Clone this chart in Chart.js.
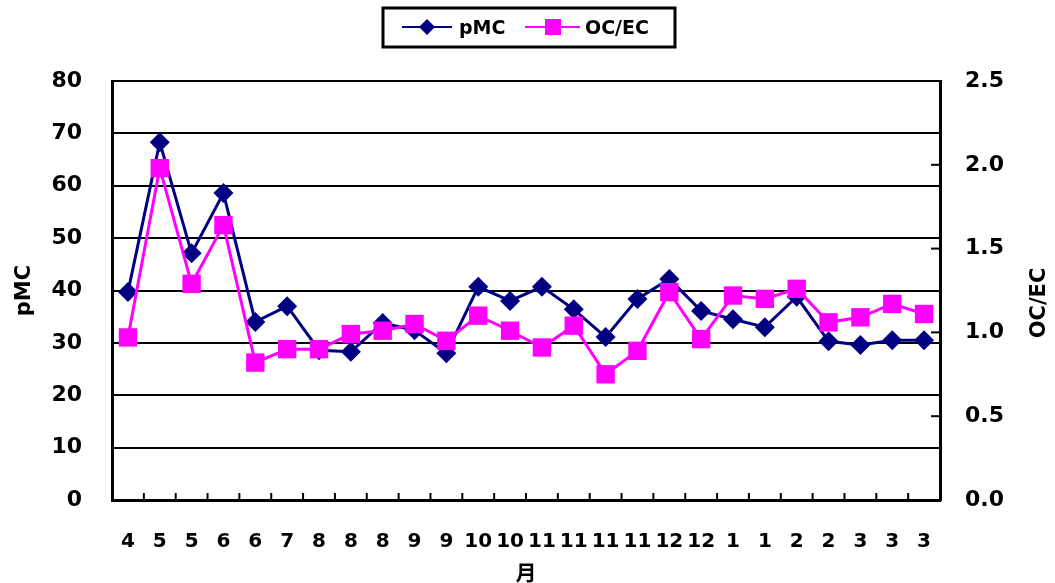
<!DOCTYPE html>
<html lang="ja">
<head>
<meta charset="UTF-8">
<title>pMC / OC/EC</title>
<script src="https://cdn.jsdelivr.net/npm/chart.js"></script>
<style>
  html, body { margin: 0; padding: 0; background: #fff; }
  .grafico { width: 1055px; height: 583px; }
</style>
</head>
<body>
<div class="grafico"><canvas id="myChart"></canvas></div>
<script>
  // meses de coleta (eixo x)
  var meses = ['4', '5', '5', '6', '6', '7', '8', '8', '8', '9', '9', '10', '10',
               '11', '11', '11', '11', '12', '12', '1', '1', '2', '2', '3', '3', '3'];

  // pMC (eixo esquerdo)
  var pmc = [39.7, 68.3, 47.1, 58.6, 34.0, 37.0, 28.6, 28.3, 33.8, 32.4, 28.0, 40.7, 38.0,
             40.7, 36.4, 31.1, 38.4, 42.2, 36.1, 34.5, 33.0, 38.8, 30.3, 29.6, 30.5, 30.5];

  // OC/EC (eixo direito)
  var ocec = [0.97, 1.98, 1.29, 1.64, 0.82, 0.90, 0.90, 0.99, 1.01, 1.05, 0.95, 1.10, 1.01,
              0.91, 1.04, 0.75, 0.89, 1.24, 0.96, 1.22, 1.20, 1.26, 1.06, 1.09, 1.17, 1.11];

  var corPmc = '#000080';
  var corOcec = '#ff00ff';
  var fonte = 'DejaVu Sans, Liberation Sans, sans-serif';

  // ticks internos, titulo do eixo direito e legenda com moldura
  var extras = {
    id: 'extras',
    afterDraw: function (chart) {
      var ctx = chart.ctx;
      var x = chart.scales.x;
      var y2 = chart.scales.y2;
      var area = chart.chartArea;

      ctx.save();
      ctx.strokeStyle = '#000';
      ctx.lineWidth = 2;

      // ticks do eixo x, para dentro
      var passo = x.getPixelForValue(1) - x.getPixelForValue(0);
      for (var i = 1; i < meses.length; i++) {
        var px = x.getPixelForValue(i) - passo / 2;
        ctx.beginPath();
        ctx.moveTo(px, area.bottom);
        ctx.lineTo(px, area.bottom - 7);
        ctx.stroke();
      }

      // ticks do eixo direito, para dentro
      y2.ticks.forEach(function (t) {
        var py = y2.getPixelForValue(t.value);
        ctx.beginPath();
        ctx.moveTo(area.right, py);
        ctx.lineTo(area.right - 9, py);
        ctx.stroke();
      });

      // titulo do eixo direito
      ctx.fillStyle = '#000';
      ctx.font = 'bold 21px ' + fonte;
      ctx.textAlign = 'center';
      ctx.textBaseline = 'middle';
      ctx.translate(1040, 303);
      ctx.rotate(-Math.PI / 2);
      ctx.fillText('OC/EC', 0, 0);
      ctx.restore();

      // legenda
      ctx.save();
      ctx.strokeStyle = '#000';
      ctx.lineWidth = 3;
      ctx.strokeRect(383, 8, 292, 39);

      ctx.lineWidth = 2;
      ctx.strokeStyle = corPmc;
      ctx.beginPath();
      ctx.moveTo(402, 27);
      ctx.lineTo(452, 27);
      ctx.stroke();
      ctx.fillStyle = corPmc;
      ctx.beginPath();
      ctx.moveTo(427, 19);
      ctx.lineTo(435, 27);
      ctx.lineTo(427, 35);
      ctx.lineTo(419, 27);
      ctx.closePath();
      ctx.fill();

      ctx.strokeStyle = corOcec;
      ctx.beginPath();
      ctx.moveTo(525, 27);
      ctx.lineTo(580, 27);
      ctx.stroke();
      ctx.fillStyle = corOcec;
      ctx.fillRect(545, 19, 16, 16);

      ctx.fillStyle = '#000';
      ctx.font = 'bold 19px ' + fonte;
      ctx.textAlign = 'left';
      ctx.textBaseline = 'middle';
      ctx.fillText('pMC', 459, 29);
      ctx.fillText('OC/EC', 585, 29);
      ctx.restore();
    }
  };

  var dados = {
    labels: meses,
    datasets: [{
      label: 'pMC',
      data: pmc,
      yAxisID: 'y',
      borderColor: corPmc,
      backgroundColor: corPmc,
      borderWidth: 3,
      pointStyle: 'rectRot',
      pointRadius: 10,
      pointHoverRadius: 10,
      pointBorderWidth: 0,
      tension: 0,
      order: 1
    }, {
      label: 'OC/EC',
      data: ocec,
      yAxisID: 'y2',
      borderColor: corOcec,
      backgroundColor: corOcec,
      borderWidth: 3,
      pointStyle: 'rect',
      pointRadius: 13,
      pointHoverRadius: 13,
      pointBorderWidth: 0,
      tension: 0,
      order: 0
    }]
  };

  const config = {
    type: 'line',
    data: dados,
    plugins: [extras],
    options: {
      responsive: true,
      maintainAspectRatio: false,
      animation: false,
      layout: { padding: { top: 81, left: 0, right: 0, bottom: 0 } },
      plugins: {
        legend: { display: false },
        tooltip: { enabled: false }
      },
      scales: {
        x: {
          offset: true,
          grid: { display: false, drawTicks: false },
          border: { display: true, color: '#000', width: 3 },
          ticks: {
            color: '#000',
            padding: 30,
            maxRotation: 0,
            autoSkip: false,
            font: { family: fonte, size: 20, weight: 'bold' }
          },
          title: {
            display: true,
            text: '月',
            color: '#000',
            padding: { top: 0, bottom: 0 },
            font: { family: 'Noto Sans CJK JP', size: 21, weight: 'bold', lineHeight: 1 }
          },
          afterFit: function (s) { s.height = 83; }
        },
        y: {
          position: 'left',
          min: 0,
          max: 80,
          ticks: {
            stepSize: 10,
            color: '#000',
            padding: 30,
            font: { family: fonte, size: 22, weight: 'bold' }
          },
          grid: { color: '#000', lineWidth: 2, drawTicks: false },
          border: { display: true, color: '#000', width: 3 },
          title: {
            display: true,
            text: 'pMC',
            color: '#000',
            padding: { top: 12, bottom: 0 },
            font: { family: fonte, size: 21, weight: 'bold' }
          },
          afterFit: function (s) { s.width = 112; }
        },
        y2: {
          position: 'right',
          min: 0,
          max: 2.5,
          ticks: {
            stepSize: 0.5,
            color: '#000',
            padding: 25,
            font: { family: fonte, size: 22, weight: 'bold' },
            callback: function (v) { return v.toFixed(1); }
          },
          grid: { display: false, drawTicks: false },
          border: { display: true, color: '#000', width: 3 },
          afterFit: function (s) { s.width = 115; }
        }
      }
    }
  };

  let myChart = new Chart(document.getElementById('myChart'), config);
</script>
</body>
</html>
